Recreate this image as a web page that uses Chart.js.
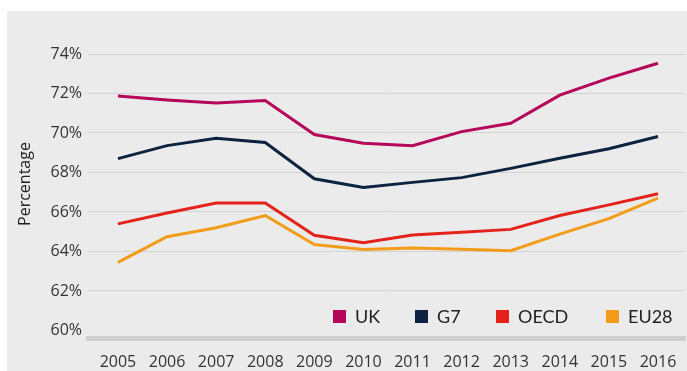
<!DOCTYPE html>
<html><head><meta charset="utf-8">
<script src="https://cdn.jsdelivr.net/npm/chart.js@4.4.0/dist/chart.umd.min.js"></script>
<style>html,body{margin:0;padding:0;background:#fff;}#wrap{width:687px;height:371px;}</style>
</head><body><div id="wrap"><canvas id="c" width="687" height="371"></canvas></div>
<script>
const years = [2005,2006,2007,2008,2009,2010,2011,2012,2013,2014,2015,2016];
const ukValues   = [71.87,71.67,71.52,71.64,69.92,69.48,69.36,70.07,70.49,71.92,72.78,73.53];
const g7Values   = [68.70,69.36,69.73,69.52,67.68,67.24,67.50,67.74,68.21,68.72,69.20,69.82];
const oecdValues = [65.40,65.95,66.45,66.45,64.82,64.44,64.84,64.98,65.12,65.82,66.36,66.92];
const eu28Values = [63.45,64.75,65.20,65.82,64.35,64.10,64.18,64.12,64.04,64.88,65.66,66.70];
const seriesNames = ['UK','G7','OECD','EU28'];
const seriesColors = ['#b5065a','#0c2340','#e3231b','#f39c1a'];
const yTicks = [60,62,64,66,68,70,72,74];

const allSeries = [ukValues,g7Values,oecdValues,eu28Values];
const datasets = allSeries.map((vals,i)=>({
  label: seriesNames[i],
  data: years.map((y,j)=>({x:y,y:vals[j]})),
  borderColor: seriesColors[i],
  backgroundColor: seriesColors[i],
  borderWidth: 3,
  pointRadius: 0,
  tension: 0,
  fill: false
}));

const bgPlugin = {
  id:'bg',
  beforeDraw(chart){
    const ctx = chart.ctx;
    ctx.save();
    ctx.fillStyle = '#ebebeb';
    ctx.fillRect(7,11,680,360);
    ctx.restore();
  },
  afterDraw(chart){
    const ctx = chart.ctx;
    ctx.save();
    ctx.translate(25,184);
    ctx.rotate(-Math.PI/2);
    ctx.fillStyle = '#222';
    ctx.font = '16px "Open Sans", sans-serif';
    ctx.textAlign = 'center';
    ctx.textBaseline = 'middle';
    ctx.fillText('Percentage',0,0);
    ctx.restore();
    const xs = [333,415,496,606];
    ctx.save();
    ctx.font = '18px Lato, sans-serif';
    ctx.textBaseline = 'middle';
    chart.data.datasets.forEach((d,i)=>{
      ctx.fillStyle = d.borderColor;
      ctx.fillRect(xs[i],310,13,13);
      ctx.fillStyle = '#222';
      ctx.fillText(d.label, xs[i]+22, 317);
    });
    ctx.restore();
  }
};

new Chart(document.getElementById('c'),{
  type:'line',
  data:{datasets},
  plugins:[bgPlugin],
  options:{
    responsive:false,
    animation:false,
    layout:{padding:{top:54,right:2,left:0,bottom:0}},
    plugins:{legend:{display:false},tooltip:{enabled:false}},
    scales:{
      x:{
        type:'linear',
        min:2004.39, max:2016.55,
        afterBuildTicks(s){ s.ticks = years.map(v=>({value:v})); },
        afterFit(s){ s.height = 33; },
        grid:{display:false},
        border:{display:true,color:'#cfcfcf',width:5},
        ticks:{color:'#333',padding:7,font:{family:'"Open Sans", sans-serif',size:16},
          callback:v=>String(v), maxRotation:0, autoSkip:false}
      },
      y:{
        min:59.62, max:74,
        afterBuildTicks(s){ s.ticks = yTicks.map(v=>({value:v})); },
        afterFit(s){ s.width = 88; },
        grid:{color:ctx=> (ctx.tick && ctx.tick.value===60) ? 'rgba(0,0,0,0)' : '#d3d3d3', lineWidth:1, drawTicks:false},
        border:{display:false},
        ticks:{color:'#333',padding:6,font:{family:'"Open Sans", sans-serif',size:16},
          callback:v=>v+'%'}
      }
    }
  }
});
</script></body></html>
